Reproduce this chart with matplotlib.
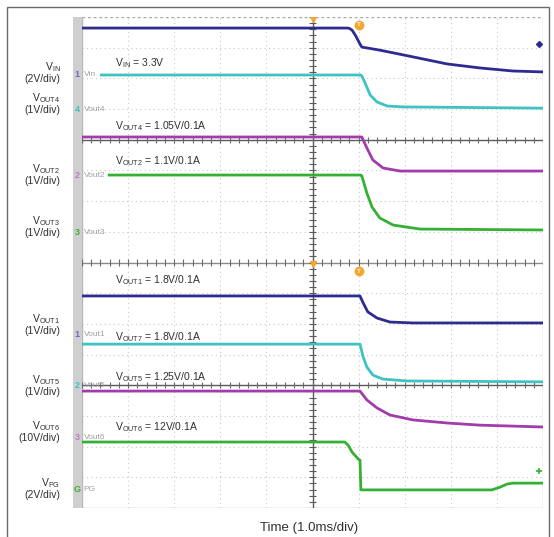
import numpy as np
import matplotlib
matplotlib.use('Agg')
import matplotlib.pyplot as plt
import matplotlib.transforms as mtransforms
from matplotlib.patches import Rectangle

plt.rcParams['font.family'] = ['Liberation Sans', 'DejaVu Sans']

# screen is 10 div of 1.0 ms wide, two stacked 8-div panels (0..8 bottom, 8..16 top)
vin_t = [-5.0, 0.77, 0.81, 0.86, 0.94, 1.03, 1.07, 1.46, 2.18, 2.92, 3.63, 4.35, 5.0]
vin_d = [15.64, 15.64, 15.62, 15.57, 15.38, 15.12, 15.02, 14.92, 14.70, 14.47, 14.34, 14.24, 14.21]

vout4_t = [-4.61, 1.05, 1.07, 1.14, 1.25, 1.40, 1.62, 1.96, 5.0]
vout4_d = [14.11, 14.11, 14.08, 13.85, 13.46, 13.23, 13.10, 13.07, 13.03]

vout2_t = [-5.0, 1.05, 1.07, 1.18, 1.31, 1.53, 1.90, 5.0]
vout2_d = [12.09, 12.09, 12.09, 11.73, 11.34, 11.08, 10.98, 10.98]

vout3_t = [-4.44, 1.05, 1.07, 1.18, 1.29, 1.46, 1.75, 2.33, 5.0]
vout3_d = [10.85, 10.85, 10.82, 10.26, 9.81, 9.45, 9.22, 9.09, 9.06]

vout1_t = [-5.0, 1.03, 1.10, 1.20, 1.40, 1.68, 2.18, 5.0]
vout1_d = [6.91, 6.91, 6.68, 6.39, 6.19, 6.06, 6.03, 6.03]

vout7_t = [-5.0, 1.03, 1.10, 1.18, 1.31, 1.53, 2.05, 5.0]
vout7_d = [5.34, 5.34, 4.92, 4.59, 4.33, 4.20, 4.14, 4.11]

vout5_t = [-5.0, 1.03, 1.18, 1.40, 1.68, 2.18, 2.92, 3.63, 5.0]
vout5_d = [3.81, 3.81, 3.52, 3.26, 3.03, 2.87, 2.77, 2.70, 2.64]

pg_t = [-5.0, 0.70, 0.77, 0.86, 0.99, 1.03, 1.05, 3.89, 4.07, 4.22, 4.35, 5.0]
pg_d = [2.15, 2.15, 2.05, 1.82, 1.60, 1.56, 0.59, 0.59, 0.68, 0.78, 0.81, 0.81]

blue = '#2c2c90'
cyan = '#3ec2c4'
magenta = '#a23caa'
green = '#34b034'

traces = [
    (vin_t, vin_d, blue), (vout4_t, vout4_d, cyan),
    (vout2_t, vout2_d, magenta), (vout3_t, vout3_d, green),
    (vout1_t, vout1_d, blue), (vout7_t, vout7_d, cyan),
    (vout5_t, vout5_d, magenta), (pg_t, pg_d, green),
]

# channel ground markers on the left edge
marker_num = ['1', '4', '2', '3', '1', '2', '3', 'G']
marker_name = ['Vin', 'Vout4', 'Vout2', 'Vout3', 'Vout1', 'Vout5', 'Vout6', 'PG']
marker_lvl = [14.11, 13.0, 10.85, 8.99, 5.64, 3.98, 2.31, 0.59]
marker_col = ['#6a6ac8', cyan, '#c878c8', green, '#6a6ac8', cyan, '#c878c8', green]

# scale labels left of the screen
scale_sub = ['IN', 'OUT4', 'OUT2', 'OUT3', 'OUT1', 'OUT5', 'OUT6', 'PG']
scale_div = ['(2V/div)', '(1V/div)', '(1V/div)', '(1V/div)',
             '(1V/div)', '(1V/div)', '(10V/div)', '(2V/div)']
scale_lvl = [14.21, 13.20, 10.88, 9.19, 6.0, 4.01, 2.51, 0.65]

# annotations inside the screen
note_sub = ['IN', 'OUT4', 'OUT2', 'OUT1', 'OUT7', 'OUT5', 'OUT6']
note_val = ['3.3V', '1.05V/0.1A', '1.1V/0.1A', '1.8V/0.1A', '1.8V/0.1A',
            '1.25V/0.1A', '12V/0.1A']
note_lvl = [14.50, 12.45, 11.31, 7.43, 5.57, 4.27, 2.64]

W, H = 554, 537
fig = plt.figure(figsize=(W / 100, H / 100), dpi=100)
fig.patch.set_facecolor('white')

# outer frame
fig.patches.append(Rectangle((7 / W, -0.01), 542 / W, 1 - 7 / H + 0.01,
                             transform=fig.transFigure, fill=False,
                             ec='#6a6a6a', lw=1.0, zorder=-5))

# grey strip left of the screen
fig.patches.append(Rectangle((73 / W, 1 - 508 / H), 9 / W, 491 / H,
                             transform=fig.transFigure, fc='#cfcfcf',
                             ec='none', zorder=-5))

ax = fig.add_axes([82 / W, 1 - 508 / H, 461 / W, 491 / H])
ax.set_xlim(-5, 5)
ax.set_ylim(0, 16)
ax.axis('off')

# dotted graticule
for x in range(-4, 5):
    if x != 0:
        ax.axvline(x, color='#c8c8c8', lw=0.8, ls=(0, (1, 3)))
for y in range(1, 16):
    if y not in (4, 8, 12):
        ax.axhline(y, color='#c8c8c8', lw=0.8, ls=(0, (1, 3)))

# screen edges
ax.axvline(-5, color='#b8b8b8', lw=1)
ax.axvline(5, color='#c4c4c4', lw=1)
ax.axhline(0, color='#b8b8b8', lw=1)
ax.axhline(16, color='#a8a8a8', lw=1, ls=(0, (2, 2)))
ax.axhline(8, color='#8a8a8a', lw=1)

# centre crosshair with minor ticks
ax.axvline(0, color='#5a5a5a', lw=1)
for y in (4, 12):
    ax.axhline(y, color='#5a5a5a', lw=1)
ty = np.arange(0, 16.01, 0.2)
ax.hlines(ty, -0.07, 0.07, color='#5a5a5a', lw=0.8)
tx = np.arange(-5, 5.01, 0.2)
for y in (4, 8, 12):
    ax.vlines(tx, y - 0.1, y + 0.1, color='#6a6a6a', lw=0.8)

for t, d, c in traces:
    ax.plot(t, d, color=c, lw=2.0, solid_capstyle='butt', zorder=5)

# trigger markers
ax.plot([1.01, 1.01], [15.74, 7.72], 'o', ms=6, color='#f3a62a', zorder=6)
for y in (15.74, 7.72):
    ax.text(1.01, y, 'T', color='white', fontsize=4.5, ha='center',
            va='center', fontweight='bold', zorder=7)
ax.plot([0, 0], [15.95, 7.95], 'v', ms=4, color='#f3a62a', zorder=6)
ax.plot(4.91, 15.12, 'D', ms=3, color=blue, zorder=6)
ax.plot(4.91, 1.2, '+', ms=5, mew=1.2, color=green, zorder=6)

# channel markers
trans = mtransforms.blended_transform_factory(ax.transAxes, ax.transData)
for n, name, lvl, c in zip(marker_num, marker_name, marker_lvl, marker_col):
    ax.text(-0.011, lvl, n, transform=trans, color=c, fontsize=6.5,
            fontweight='bold', ha='center', va='center', clip_on=False)
    ax.text(0.004, lvl, name, transform=trans, color='#a0a0a0', fontsize=6,
            ha='left', va='center', clip_on=False)

for sub, dv, lvl in zip(scale_sub, scale_div, scale_lvl):
    ax.text(-0.047, lvl, r'$\mathregular{V_{%s}}$' % sub + '\n' + dv,
            transform=trans, fontsize=7.5, color='#303030', ha='right',
            va='center', multialignment='right', linespacing=0.95,
            clip_on=False)

for sub, val, lvl in zip(note_sub, note_val, note_lvl):
    ax.text(-4.28, lvl, r'$\mathregular{V_{%s}}$ = %s' % (sub, val),
            fontsize=7.5, color='#303030', ha='left', va='center', zorder=8)

fig.text(309 / W, 1 - 528 / H, 'Time (1.0ms/div)', fontsize=9.5,
         color='#303030', ha='center', va='center')

fig.savefig('out.png', dpi=100)
